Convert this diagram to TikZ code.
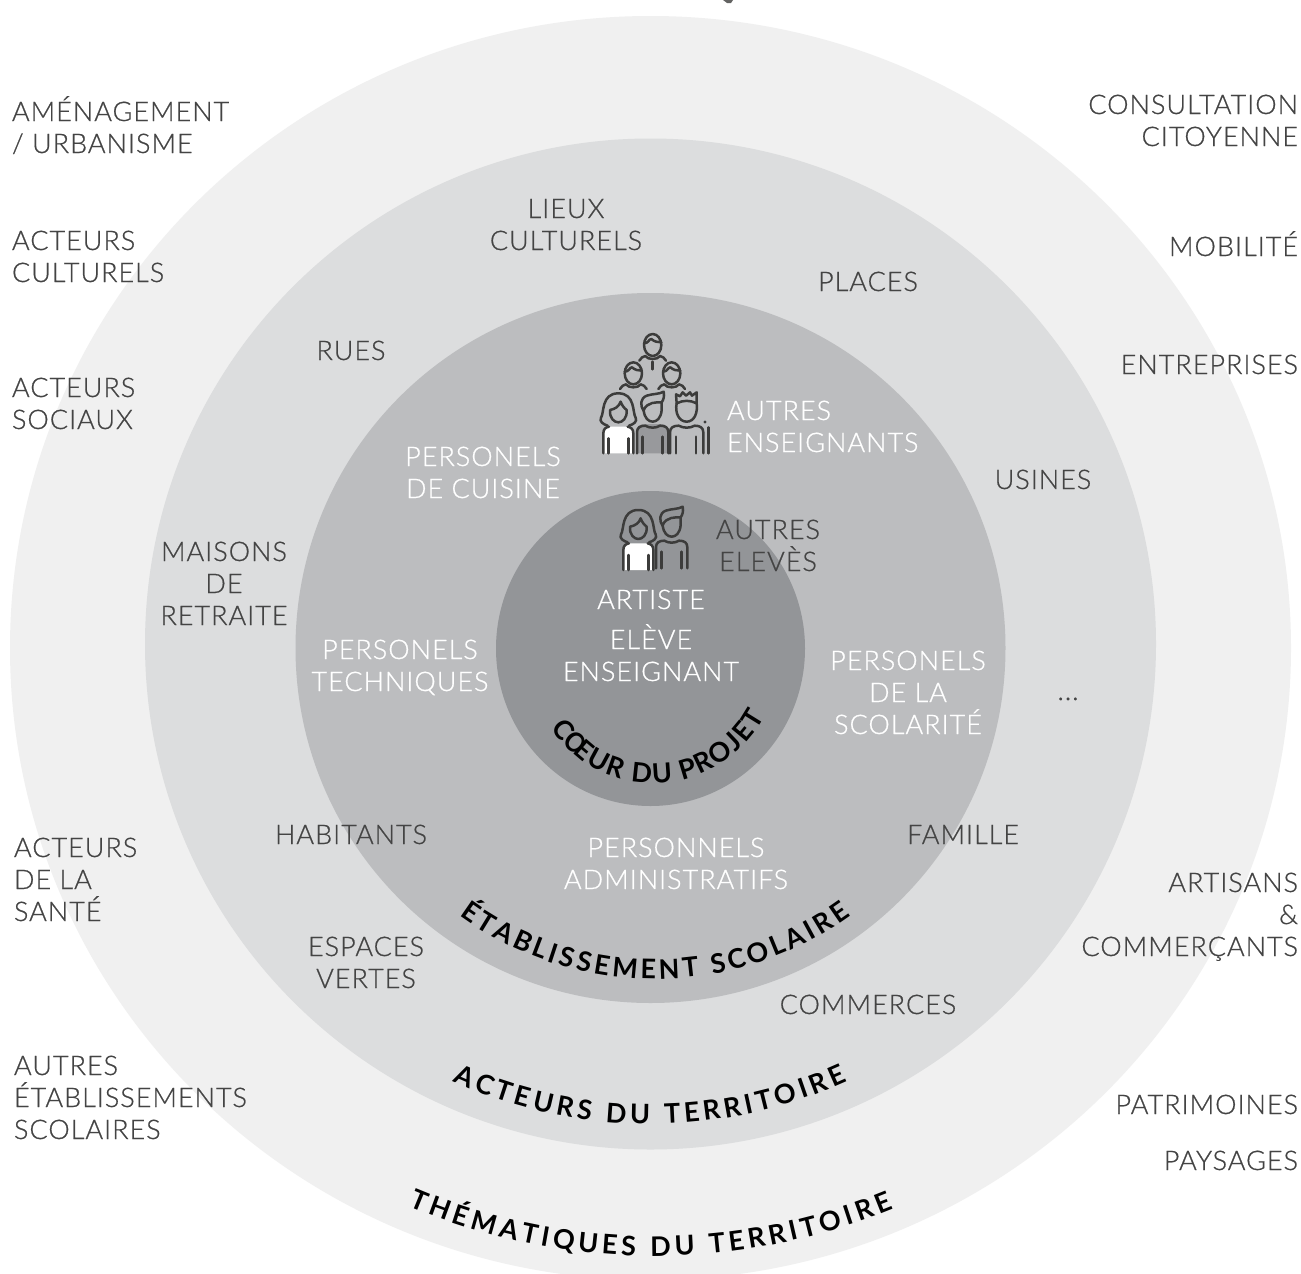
\documentclass[tikz,border=0pt]{standalone}
\usepackage{fontspec}
\usetikzlibrary{decorations.text,calc}
\newfontfamily\lightf{Lato Light}[LetterSpace=3.7,FakeBold=0.7]
\newfontfamily\boldf{Lato Bold}
\definecolor{ringA}{HTML}{F0F0F0}
\definecolor{ringB}{HTML}{DCDDDE}
\definecolor{ringC}{HTML}{BCBDBF}
\definecolor{ringD}{HTML}{939598}
\definecolor{ink}{HTML}{444444}
\definecolor{iconink}{HTML}{3C3C3B}
\definecolor{iconfill}{HTML}{98999C}
\tikzset{
  x=1pt,y=1pt,
  lbl/.style={inner sep=0pt,outer sep=0pt,font=\fontsize{27}{32}\selectfont\lightf,anchor=base},
  darklbl/.style={lbl,text=ink,align=center},
  whitelbl/.style={lbl,text=white,align=center},
  leftlbl/.style={lbl,text=ink,align=left,anchor=base west},
  rightlbl/.style={lbl,text=ink,align=right,anchor=base east},
  whiteleft/.style={lbl,text=white,align=left,anchor=base west},
  iconline/.style={draw=iconink,line width=2.5pt,line cap=round,line join=round},
}
\newcommand\womanicon[2]{\begin{scope}[shift={(#1,#2)}]
    \fill[white] (-45,125) -- (-45,65) .. controls (-45,50) and (-35,45) .. (-22,45) -- (22,45) .. controls (35,45) and (45,50) .. (45,65) -- (45,125) -- cycle;
    \draw[iconline] (-45,125) -- (-45,65) .. controls (-45,52) and (-38,47) .. (-28,45);
    \draw[iconline] (45,125) -- (45,65) .. controls (45,52) and (38,47) .. (28,45);
    \draw[iconline] (-30,80) -- (-30,125) (30,80) -- (30,125);
    \draw[iconline] (-32,42) .. controls (-45,38) and (-58,30) .. (-52,18) .. controls (-42,5) and (-52,-55) .. (0,-55) .. controls (52,-55) and (42,5) .. (52,18) .. controls (58,30) and (45,38) .. (32,42);
    \draw[iconline] (-25,-5) .. controls (-27,20) and (-12,32) .. (0,32) .. controls (12,32) and (27,20) .. (25,-5) .. controls (18,-10) and (10,-20) .. (7,-30) .. controls (2,-15) and (-10,-8) .. (-25,-5);
\end{scope}}
\newcommand\manicon[2]{\begin{scope}[shift={(#1,#2)}]
    \draw[iconline] (-47,135) -- (-47,72) .. controls (-47,58) and (-38,52) .. (-22,52) .. controls (-10,60) and (10,60) .. (22,52) .. controls (38,52) and (47,58) .. (47,72) -- (47,135);
    \draw[iconline] (-30,85) -- (-30,135) (30,85) -- (30,135);
    \draw[iconline] (-27,5) .. controls (-25,30) and (-12,40) .. (0,40) .. controls (12,40) and (25,30) .. (27,5) -- (27,-18);
    \draw[iconline] (-27,8) .. controls (-38,-8) and (-38,-30) .. (-18,-38) .. controls (0,-44) and (20,-42) .. (33,-50) .. controls (36,-35) and (32,-25) .. (27,-18) .. controls (10,-18) and (-15,-20) .. (-27,5);
\end{scope}}
\newcommand\spikyicon[2]{\begin{scope}[shift={(#1,#2)}]
    \draw[iconline] (-50,135) -- (-50,72) .. controls (-50,58) and (-40,52) .. (-24,52) .. controls (-10,60) and (10,60) .. (24,52) .. controls (40,52) and (50,58) .. (50,72) -- (50,135);
    \draw[iconline] (-32,85) -- (-32,135) (28,85) -- (28,135);
    \draw[iconline] (-30,-15) .. controls (-36,15) and (-22,40) .. (0,40) .. controls (22,40) and (34,15) .. (30,-15);
    \draw[iconline] (-30,-15) -- (-32,-42) -- (-20,-36) -- (-12,-48) -- (-2,-38) -- (10,-48) -- (16,-38) -- (30,-48) -- (30,-15) .. controls (10,-25) and (-10,-25) .. (-30,-15);
\end{scope}}
\newcommand\busticon[2]{\begin{scope}[shift={(#1,#2)}]
    \draw[iconline] (0,0) ellipse[x radius=26,y radius=33];
    \draw[iconline] (-26,-5) .. controls (-12,-5) and (-12,-18) .. (-4,-18) .. controls (5,-10) and (15,-8) .. (26,-8);
    \draw[iconline] (-40,47) .. controls (-35,38) and (-30,35) .. (-22,33) .. controls (-15,45) and (15,45) .. (22,33) .. controls (30,35) and (35,38) .. (40,47);
\end{scope}}
\begin{document}
\begin{tikzpicture}
\useasboundingbox (0,-1274) rectangle (1301,0);
\fill[white] (0,-1274) rectangle (1301,0);
\begin{scope}
\clip (0,-1274) rectangle (1301,0);
\fill[ringA] (650.5,-648) ellipse[x radius=640.5pt,y radius=632pt];
\fill[iconink!80!white] (723,0) -- (733,0) -- (731,-3) -- (727,-3) -- cycle;
\end{scope}
\fill[ringB] (650.5,-644) circle[radius=505.5pt];
\fill[ringC] (650.5,-648) circle[radius=355pt];
\fill[ringD] (650.5,-648.5) ellipse[x radius=154.5pt,y radius=157.5pt];

% outer ring, left
\node[leftlbl] (amenagement) at (12,-153) {AMÉNAGEMENT\\/ URBANISME};
\node[leftlbl] (culturels) at (12,-282) {ACTEURS\\CULTURELS};
\node[leftlbl] (sociaux) at (12,-429) {ACTEURS\\SOCIAUX};
\node[leftlbl] (sante) at (14,-921) {ACTEURS\\DE LA\\SANTÉ};
\node[leftlbl] (etabs) at (14,-1139) {AUTRES\\ÉTABLISSEMENTS\\SCOLAIRES};
% outer ring, right
\node[rightlbl] (consult) at (1298,-146) {CONSULTATION\\CITOYENNE};
\node[rightlbl] (mobilite) at (1298,-256) {MOBILITÉ};
\node[rightlbl] (entreprises) at (1298,-374) {ENTREPRISES};
\node[rightlbl] (artisans) at (1298,-956) {ARTISANS\\\&\\COMMERÇANTS};
\node[rightlbl] (patrimoines) at (1298,-1114) {PATRIMOINES};
\node[rightlbl] (paysages) at (1298,-1170) {PAYSAGES};
% second ring
\node[darklbl] (lieux) at (566,-250) {LIEUX\\CULTURELS};
\node[darklbl] (places) at (868,-291) {PLACES};
\node[darklbl] (rues) at (351,-360) {RUES};
\node[darklbl] (usines) at (1043,-489) {USINES};
\node[darklbl] (maisons) at (224,-625) {MAISONS\\DE\\RETRAITE};
\node[darklbl] (dots) at (1068,-700) {...};
\node[darklbl] (habitants) at (351,-844) {HABITANTS};
\node[darklbl] (famille) at (963,-844) {FAMILLE};
\node[darklbl] (espaces) at (366,-988) {ESPACES\\VERTES};
\node[darklbl] (commerces) at (868,-1014) {COMMERCES};
% third ring
\node[whiteleft] (enseignants) at (727,-452) {AUTRES\\ENSEIGNANTS};
\node[whitelbl] (cuisine) at (483,-498) {PERSONELS\\DE CUISINE};
\node[whitelbl] (techniques) at (400,-691) {PERSONELS\\TECHNIQUES};
\node[whitelbl] (scolarite) at (908,-734) {PERSONELS\\DE LA\\SCOLARITÉ};
\node[whitelbl] (admin) at (676,-889) {PERSONNELS\\ADMINISTRATIFS};
% core
\node[darklbl] (eleves) at (768,-571) {AUTRES\\ELEVÈS};
\node[whitelbl] (artiste) at (651,-609) {ARTISTE};
\node[whitelbl] (eleve) at (651,-681) {ELÈVE\\ENSEIGNANT};

% curved titles
\path[decorate,decoration={text along path,text align={fit to path},text={|\fontsize{27}{27}\selectfont\boldf|THÉMATIQUES DU TERRITOIRE}}] ($(654,-625)+(247.1:631pt)$) arc[start angle=247.1,end angle=292.3,radius=631pt];
\path[decorate,decoration={text along path,text align={fit to path},text={|\fontsize{27}{27}\selectfont\boldf|ACTEURS DU TERRITOIRE}}] ($(650,-647)+(245.5:477pt)$) arc[start angle=245.5,end angle=294.5,radius=477pt];
\path[decorate,decoration={text along path,text align={fit to path},text={|\fontsize{27}{27}\selectfont\boldf|ÉTABLISSEMENT SCOLAIRE}}] ($(655,-646)+(234:333pt)$) arc[start angle=234,end angle=306,radius=333pt];
\path[decorate,decoration={text along path,text align={fit to path},text={|\fontsize{27}{27}\selectfont\boldf|CŒUR DU PROJET}}] ($(654,-658)+(214:125pt)$) arc[start angle=214,end angle=332,radius=125pt];

% big icon
\begin{scope}[shift={(580,-320)},xscale=1/3,yscale=-1/3]
\fill[iconfill] (170,400) -- (170,332) .. controls (170,318) and (180,312) .. (195,312) -- (240,312) .. controls (255,312) and (265,318) .. (265,332) -- (265,400) -- cycle;
\womanicon{115}{275}
\manicon{218}{265}
\spikyicon{320}{265}
\busticon{218}{75}
\busticon{160}{160}
\busticon{275}{160}
\draw[iconline] (218,125) -- (218,148);
\draw[iconline] (385,322) -- (385,400);
\fill[iconink] (375,306) circle[radius=5];
\end{scope}
% small icon
\begin{scope}[shift={(600,-495)},xscale=1/3,yscale=-1/3]
\womanicon{115}{100}
\manicon{215}{85}
\end{scope}
\end{tikzpicture}
\end{document}
